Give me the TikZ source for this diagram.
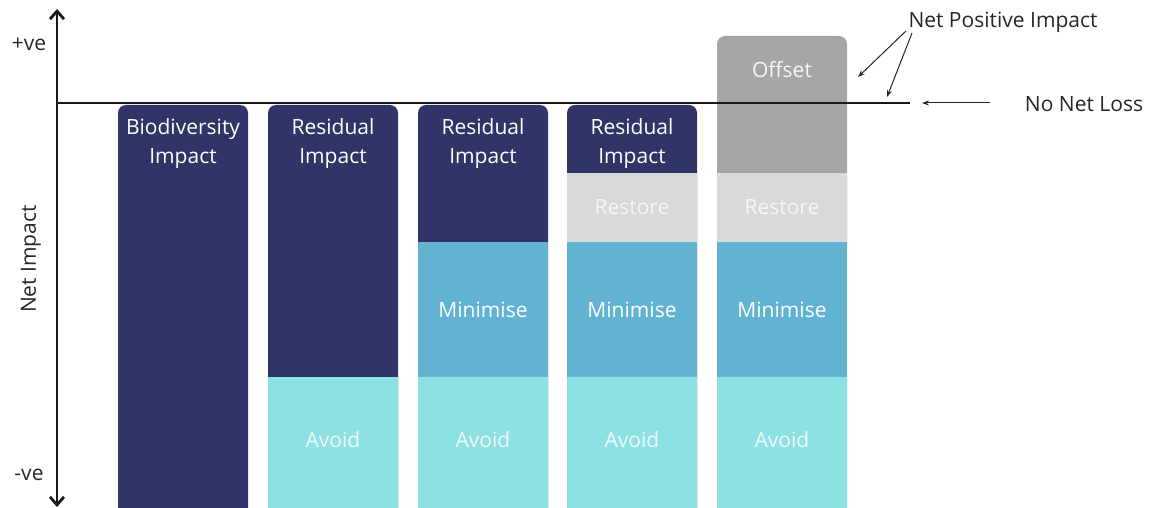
\documentclass[tikz,border=0pt]{standalone}
\usepackage{fontspec}
\setmainfont{Open Sans}
\usetikzlibrary{arrows.meta}
\definecolor{navy}{HTML}{313466}
\definecolor{minimc}{HTML}{62B3D2}
\definecolor{avoidc}{HTML}{8CE2E3}
\definecolor{restc}{HTML}{D9D9D9}
\definecolor{offc}{HTML}{A6A6A6}
\definecolor{lbl}{HTML}{F4F8F8}
\begin{document}
\begin{tikzpicture}[x=1pt,y=-1pt,
  font=\fontsize{21}{29}\selectfont,
  barlbl/.style={text=lbl, align=center, inner sep=0pt},
  toplbl/.style={text=white, align=center, inner sep=0pt, anchor=north},
  axlbl/.style={text=black!85, inner sep=0pt},
  note/.style={text=black!85, inner sep=0pt},
  thinarrow/.style={-{Stealth[length=7pt,width=5pt]}, line width=1pt, black!85}]
\useasboundingbox (0,0) rectangle (1150,508);
% bar backgrounds
\fill[navy, rounded corners=8pt] (118,105) rectangle (248,530);
\fill[navy, rounded corners=8pt] (268,105) rectangle (398,530);
\fill[navy, rounded corners=8pt] (418,105) rectangle (548,530);
\fill[navy, rounded corners=8pt] (567,105) rectangle (697,530);
\fill[offc, rounded corners=8pt] (717,36) rectangle (847,530);
% restore
\fill[restc] (567,173) rectangle (697,242);
\fill[restc] (717,173) rectangle (847,242);
% minimise
\fill[minimc] (418,242) rectangle (548,377);
\fill[minimc] (567,242) rectangle (697,377);
\fill[minimc] (717,242) rectangle (847,377);
% avoid
\fill[avoidc] (268,377) rectangle (398,530);
\fill[avoidc] (418,377) rectangle (548,530);
\fill[avoidc] (567,377) rectangle (697,530);
\fill[avoidc] (717,377) rectangle (847,530);
% labels
\node[toplbl] (b1) at (183,118) {Biodiversity\\Impact};
\node[toplbl] (b2) at (333,118) {Residual\\Impact};
\node[toplbl] (b3) at (483,118) {Residual\\Impact};
\node[toplbl] (b4) at (632,118) {Residual\\Impact};
\node[barlbl] (off) at (782,70) {Offset};
\node[barlbl] (r4) at (632,207) {Restore};
\node[barlbl] (r5) at (782,207) {Restore};
\node[barlbl,text=white] (m3) at (483,310) {Minimise};
\node[barlbl,text=white] (m4) at (632,310) {Minimise};
\node[barlbl,text=white] (m5) at (782,310) {Minimise};
\node[barlbl] (a2) at (333,440) {Avoid};
\node[barlbl] (a3) at (483,440) {Avoid};
\node[barlbl] (a4) at (632,440) {Avoid};
\node[barlbl] (a5) at (782,440) {Avoid};
% zero line
\coordinate (zl) at (57,103);
\coordinate (zr) at (910,103);
\draw[line width=2.8pt, black!90] (zl) -- (zr);
% axis
\coordinate (ytop) at (57,9);
\coordinate (ybot) at (57,507);
\draw[line width=2.8pt, black!90, {Straight Barb[length=8pt,width=14pt]}-{Straight Barb[length=8pt,width=14pt]}] (ybot) -- (ytop);
\node[axlbl] (pve) at (29,44) {+ve};
\node[axlbl] (nve) at (29,475) {-ve};
\node[axlbl, rotate=90] (ni) at (31,259) {Net Impact};
% annotations
\node[note] (npi) at (1003,22) {Net Positive Impact};
\coordinate (npa) at (858,77);
\coordinate (npb) at (887,97);
\draw[thinarrow] (906,31) -- (npa);
\draw[thinarrow] (912,33) -- (npb);
\node[note] (nnl) at (1084,104) {No Net Loss};
\coordinate (nnla) at (922,103);
\draw[thinarrow] (990,103) -- (nnla);
\end{tikzpicture}
\end{document}
